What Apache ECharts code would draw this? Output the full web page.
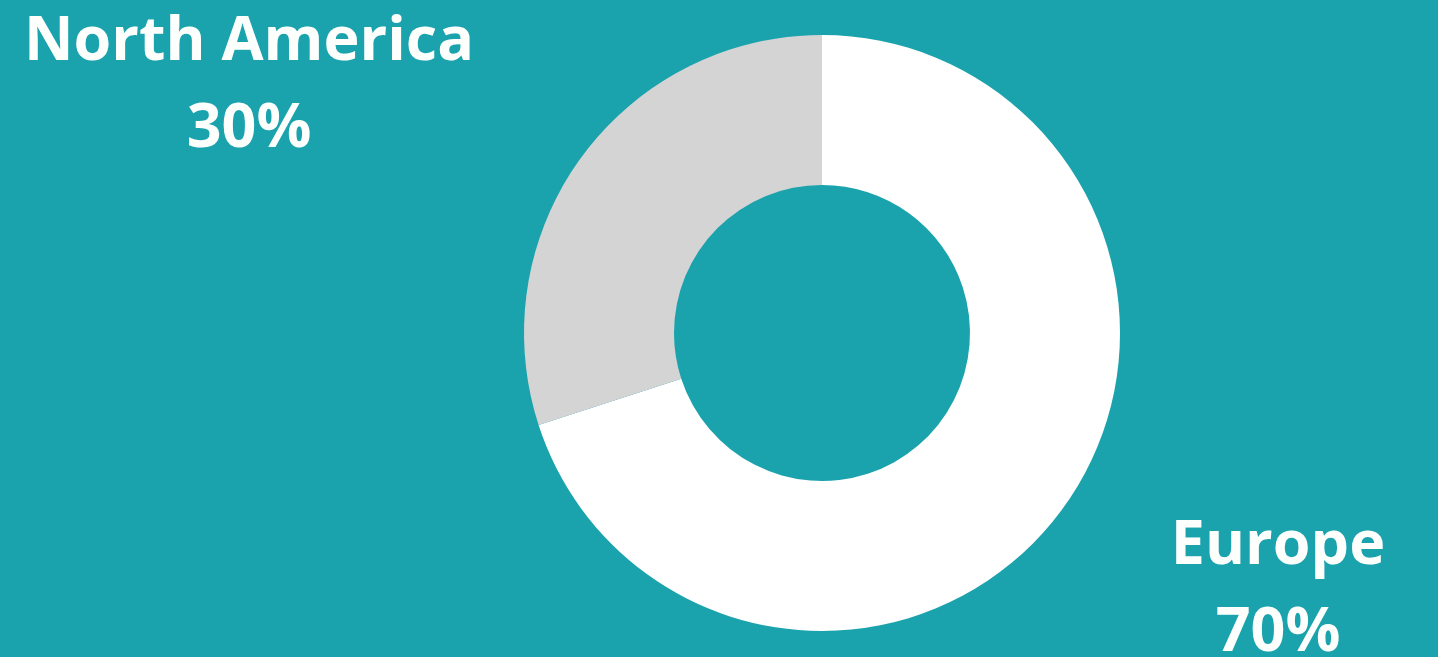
<!DOCTYPE html>
<html>
<head>
<meta charset="utf-8">
<style>
  html, body { margin: 0; padding: 0; background: #1aa3ad; }
  #chart { width: 1438px; height: 657px; }
</style>
<script src="https://cdn.jsdelivr.net/npm/echarts@6/dist/echarts.min.js"></script>
</head>
<body>
<div id="chart"></div>
<script>
// Regional share
const regions = ['Europe', 'North America'];
const shares = [70, 30];
const sliceColors = ['#ffffff', '#d4d4d4'];
// Where each region's caption sits (centre of the two-line block)
const labelSpots = [[1278, 590], [249, 86]];

const chart = echarts.init(document.getElementById('chart'), null, { renderer: 'canvas' });

chart.setOption({
  backgroundColor: '#1aa3ad',
  animation: false,
  series: [{
    type: 'pie',
    center: [822, 333],
    radius: [148, 298],
    startAngle: 90,
    clockwise: true,
    avoidLabelOverlap: false,
    data: regions.map((name, i) => ({
      name,
      value: shares[i],
      itemStyle: { color: sliceColors[i] }
    })),
    label: {
      show: true,
      position: 'outside',
      formatter: '{b}\n{d}%',
      color: '#fdfffd',
      fontFamily: 'Open Sans',
      fontWeight: 'bold',
      fontSize: 61,
      lineHeight: 87,
      align: 'center'
    },
    labelLine: { show: false },
    labelLayout: (params) => ({
      x: labelSpots[params.dataIndex][0],
      y: labelSpots[params.dataIndex][1],
      align: 'center',
      verticalAlign: 'middle'
    }),
    emphasis: { disabled: true }
  }]
});
</script>
</body>
</html>
